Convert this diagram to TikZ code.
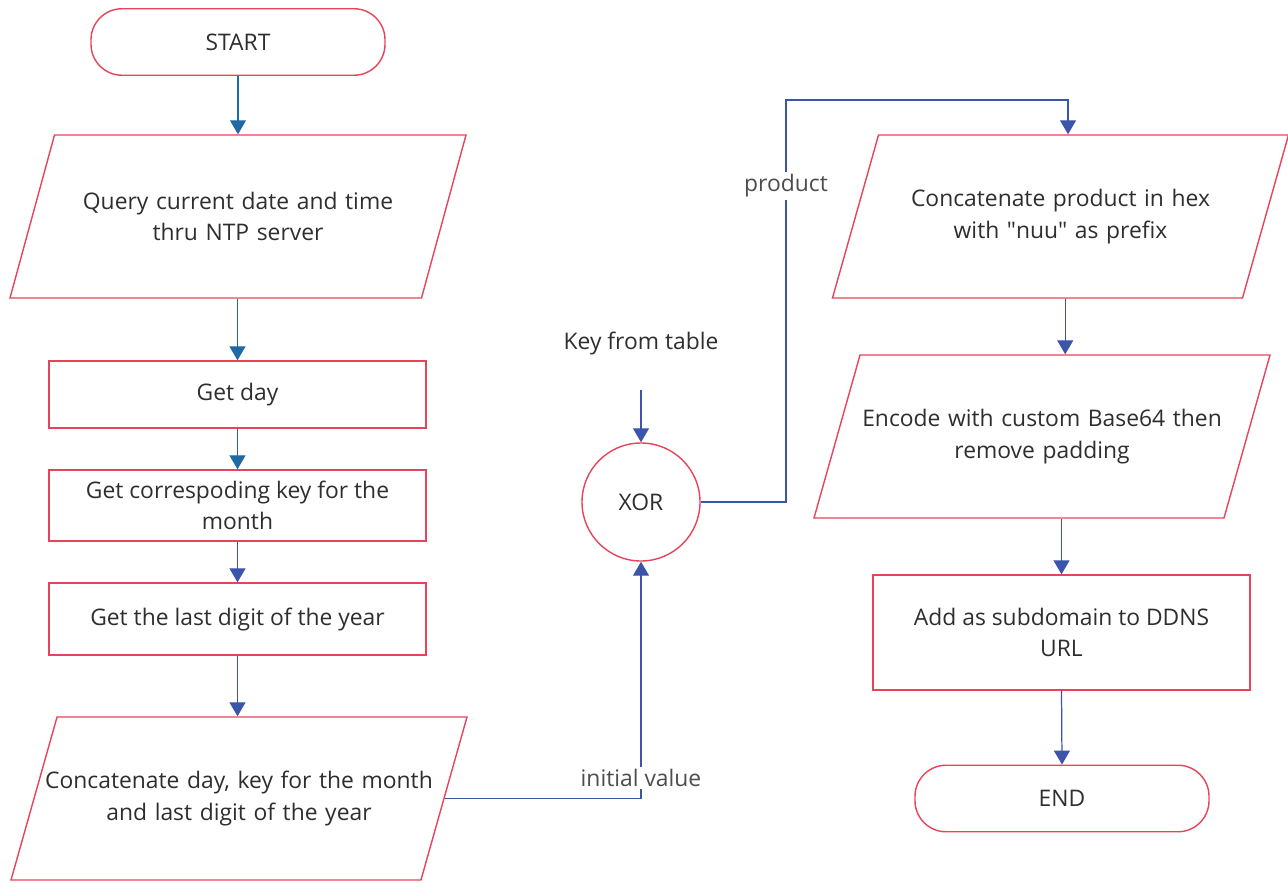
\documentclass[tikz,border=0pt]{standalone}
\usepackage{fontspec}
\setmainfont{Open Sans}
\usetikzlibrary{shapes.geometric, arrows.meta}
\definecolor{flowred}{HTML}{E8435A}
\definecolor{flowblue}{HTML}{3B55A8}
\definecolor{flowteal}{HTML}{1F6AA5}
\definecolor{flowtext}{HTML}{2E2E2E}

\begin{document}
\begin{tikzpicture}[
  every node/.style={text=flowtext, font=\fontsize{13}{18}\selectfont},
  term/.style={draw=flowred, line width=0.8pt, rounded corners=0.62cm, minimum width=5.88cm, minimum height=1.33cm},
  proc/.style={draw=flowred, line width=0.8pt, minimum width=7.54cm, inner ysep=2pt, align=center},
  io/.style={draw=flowred, line width=0.8pt, trapezium, trapezium left angle=74, trapezium right angle=106, trapezium stretches body, inner xsep=0pt, inner ysep=1.06cm, text width=7.1cm, minimum width=9.12cm, minimum height=3.26cm, align=center},
  gate/.style={draw=flowred, line width=0.8pt, circle, minimum size=2.36cm},
  arr/.style={-{Triangle[width=0.32cm, length=0.28cm]}, draw=flowblue, line width=0.7pt},
  tarr/.style={arr, draw=flowteal},
  lbl/.style={fill=white, inner sep=1.5pt, text=flowtext!85},
]
\useasboundingbox (0,0) rectangle (25.76,-17.64);

% --- left column ---
\node[term] (start) at (4.76,-0.84) {START};
\node[io] (query) at (4.76,-4.33) {Query current date and time\\thru NTP server};
\node[proc, minimum height=1.34cm] (day) at (4.75,-7.89) {Get day};
\node[proc, minimum height=1.42cm] (key) at (4.75,-10.11) {Get correspoding key for the\\month};
\node[proc, minimum height=1.44cm] (digit) at (4.75,-12.38) {Get the last digit of the year};
\node[io] (cat1) at (4.78,-15.97) {\makebox[\linewidth]{Concatenate day, key for the month}\\and last digit of the year};

\draw[tarr] (start.south) -- (start.south |- query.north);
\draw[tarr] (query.south -| day.north) -- (day.north);
\draw[tarr] (day.south) -- (key.north);
\draw[arr] (key.south) -- (digit.north);
\draw[arr] (digit.south) -- (digit.south |- cat1.north);

% --- XOR ---
\node (keytab) at (12.82,-6.86) {Key from table};
\node[gate] (xor) at (12.82,-10.04) {XOR};
\coordinate (bend) at (15.72,-2.0);

\draw[arr] ([yshift=-0.58cm]keytab.south) -- (xor.north);
\draw[arr] (cat1.east) -| (xor.south);
\node[lbl] (init) at (12.82,-15.56) {initial value};

% --- right column ---
\node[io] (cat2) at (21.21,-4.33) {Concatenate product in hex\\with \textquotedbl nuu\textquotedbl{} as prefix};
\node[io] (enc) at (20.84,-8.73) {\makebox[\linewidth]{Encode with custom Base64 then}\\remove padding};
\node[proc, minimum height=2.3cm] (add) at (21.23,-12.65) {Add as subdomain to DDNS\\URL};
\node[term] (end) at (21.24,-15.97) {END};

\draw[arr] (xor.east) -| (bend) -| ([xshift=0.15cm]cat2.north);
\node[lbl] (prod) at (15.72,-3.72) {product};
\draw[arr] (cat2.south -| enc.top side) -- (enc.top side);
\draw[arr] (enc.south -| add.north) -- (add.north);
\draw[arr] (add.south) -- (end.north);

\end{tikzpicture}
\end{document}
